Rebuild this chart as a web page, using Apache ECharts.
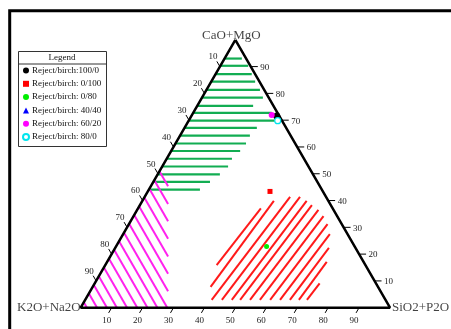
<!DOCTYPE html>
<html><head><meta charset="utf-8">
<script src="https://cdn.jsdelivr.net/npm/echarts@6/dist/echarts.min.js"></script>
<style>html,body{margin:0;padding:0;background:#fff}#c{width:451px;height:329px}</style>
</head><body><div id="c"></div>
<script>
// ---------- DATA (ternary compositions in %) ----------
const vertexNames = ['CaO+MgO', 'K2O+Na2O', 'SiO2+P2O'];
const tickValues = [10, 20, 30, 40, 50, 60, 70, 80, 90];
const legendTitle = 'Legend';
const seriesNames = ['Reject/birch:100/0', 'Reject/birch: 0/100', 'Reject/birch: 0/80',
                     'Reject/birch: 40/40', 'Reject/birch: 60/20', 'Reject/birch: 80/0'];
// sample points: SiO2+P2O (%) and CaO+MgO (%)
const sampleSiO2 = [27.6, 39.5, 48.7, 27.6, 25.8, 28.8];
const sampleCaO  = [71.6, 43.4, 22.8, 71.6, 71.9, 69.8];

// green hatch: lines of constant CaO+MgO, from SiO2=0 to SiO2 end
const greenCaO     = [93.0, 90.3, 87.2, 84.4, 81.3, 78.4, 75.3, 72.7, 69.8, 67.1, 64.2, 61.3, 58.5, 55.6, 52.7, 49.8, 47.0, 44.1];
const greenSiO2End = [5.6, 9.0, 11.7, 14.2, 17.3, 19.7, 18.1, 25.4, 27.9, 23.4, 22.6, 22.8, 22.3, 21.1, 21.3, 20.1, 18.3, 16.5];

// magenta hatch: lines of constant K2O+Na2O, from SiO2=0 to SiO2 end
const magentaK2O     = [98.0, 94.7, 91.5, 88.3, 85.0, 81.7, 78.4, 75.2, 72.0, 68.7, 65.4, 62.2, 58.9, 55.6, 52.4, 49.1];
const magentaSiO2End = [2.0, 5.3, 8.5, 11.7, 15.0, 18.3, 21.6, 24.8, 28.0, 25.2, 21.9, 18.7, 15.4, 12.1, 8.9, 5.6];

// red hatch: start (SiO2, CaO) and end (SiO2, CaO)
const redStartSiO2 = [36.0, 38.1, 40.9, 44.2, 47.4, 50.1, 53.3, 56.5, 59.8, 63.0, 66.2, 69.1, 71.7];
const redStartCaO  = [15.9, 7.8, 2.9, 2.9, 2.9, 2.9, 2.9, 2.9, 2.9, 2.9, 2.9, 2.9, 2.9];
const redEndSiO2   = [39.7, 42.5, 47.0, 50.2, 53.1, 55.6, 58.6, 61.4, 64.2, 66.8, 69.1, 71.0, 72.7];
const redEndCaO    = [37.1, 39.9, 41.4, 41.4, 39.9, 38.3, 36.5, 34.2, 31.2, 27.5, 22.3, 17.1, 9.1];

// ---------- ternary -> cartesian ----------
const H = Math.sqrt(3) / 2;
function tern(si, ca) { return [si + ca / 2, ca * H]; }

const FONT = "'Liberation Serif','Times New Roman',serif";

const segData = (starts, ends) => starts.map((s, i) => s.concat(ends[i]));

const greenSegs = segData(greenCaO.map(a => tern(0, a)), greenCaO.map((a, i) => tern(greenSiO2End[i], a)));
const magentaSegs = segData(magentaK2O.map(c => tern(0, 100 - c)),
                            magentaK2O.map((c, i) => tern(magentaSiO2End[i], 100 - c - magentaSiO2End[i])));
const redSegs = segData(redStartSiO2.map((s, i) => tern(s, redStartCaO[i])),
                        redEndSiO2.map((s, i) => tern(s, redEndCaO[i])));

const triangle = [tern(0, 100), tern(0, 0), tern(100, 0), tern(0, 100)];

// ticks: [x, y, side, label]
const tickData = [];
tickValues.forEach(v => {
  const b = tern(v, 0);       tickData.push([b[0], b[1], 0, v]);          // bottom: SiO2
  const r = tern(100 - v, v); tickData.push([r[0], r[1], 1, v]);          // right: CaO
  const l = tern(0, 100 - v); tickData.push([l[0], l[1], 2, v]);          // left: K2O
});

function segRender(color, width) {
  return function (params, api) {
    const p1 = api.coord([api.value(0), api.value(1)]);
    const p2 = api.coord([api.value(2), api.value(3)]);
    return { type: 'line', shape: { x1: p1[0], y1: p1[1], x2: p2[0], y2: p2[1] },
             style: { stroke: color, lineWidth: width, lineCap: 'butt' } };
  };
}

function tickRender(params, api) {
  const p = api.coord([api.value(0), api.value(1)]);
  const side = api.value(2), lab = String(api.value(3));
  let d, lx, ly, align;
  if (side === 0) { d = [-0.5 * 6, 0.866 * 6]; lx = p[0] - 5; ly = p[1] + 12.5; align = 'center'; }
  else if (side === 1) { d = [7, 0]; lx = p[0] + 9.5; ly = p[1] + 1; align = 'left'; }
  else { d = [-0.5 * 6, -0.866 * 6]; lx = p[0] - 7; ly = p[1] - 9.5; align = 'center'; }
  return { type: 'group', children: [
    { type: 'line', shape: { x1: p[0], y1: p[1], x2: p[0] + d[0], y2: p[1] + d[1] }, style: { stroke: '#000', lineWidth: 1 } },
    { type: 'text', style: { x: lx, y: ly, text: lab, align: align, verticalAlign: 'middle',
      font: "9px " + FONT, fill: '#222' } }
  ]};
}

const markerStyles = [
  { symbol: 'circle', size: 7, color: '#000', zl: 1 },
  { symbol: 'rect', size: 5, color: '#ff0000', zl: 1 },
  { symbol: 'circle', size: 5, color: '#00ee00', zl: 1 },
  { symbol: 'triangle', size: 3, color: '#0000ff', zl: 0 },
  { symbol: 'circle', size: 6, color: '#ff00ff', zl: 1 },
  { symbol: 'circle', size: 6, color: '#ffffff', border: '#00e5ee', zl: 1 }
];

const chart = echarts.init(document.getElementById('c'), null, { renderer: 'canvas' });
const option = {
  animation: false,
  backgroundColor: '#fff',
  grid: { left: 80.7, top: 39.8, width: 309.3, height: 267.9, containLabel: false },
  xAxis: { type: 'value', min: 0, max: 100, show: false },
  yAxis: { type: 'value', min: 0, max: 100 * H, show: false },
  legend: {
    orient: 'vertical', left: 17, top: 61, itemWidth: 6, itemHeight: 6, itemGap: 4.3,
    data: seriesNames, selectedMode: false,
    textStyle: { fontFamily: FONT, fontSize: 9, color: '#111', padding: [0, 0, 0, -2] }
  },
  graphic: [
    { type: 'polyline', shape: { points: [[9.7, 340], [9.7, 10.8], [460, 10.8]] }, style: { stroke: '#000', lineWidth: 3, fill: null } },
    { type: 'rect', shape: { x: 18.5, y: 51.5, width: 88, height: 95 }, style: { stroke: '#333', lineWidth: 1, fill: '#fff' }, z: -1 },
    { type: 'line', shape: { x1: 18.5, y1: 64, x2: 106.5, y2: 64 }, style: { stroke: '#333', lineWidth: 1 } },
    { type: 'text', style: { x: 62, y: 58, text: legendTitle, align: 'center', verticalAlign: 'middle', font: '9px ' + FONT, fill: '#111' } }
  ],
  series: [
    { type: 'custom', name: 'green', renderItem: segRender('#12ad52', 2.2), data: greenSegs, encode: { x: [0, 2], y: [1, 3] }, silent: true, z: 2 },
    { type: 'custom', name: 'magenta', renderItem: segRender('#ff22ee', 2), data: magentaSegs, encode: { x: [0, 2], y: [1, 3] }, silent: true, z: 3 },
    { type: 'custom', name: 'red', renderItem: segRender('#ff1a1a', 2), data: redSegs, encode: { x: [0, 2], y: [1, 3] }, silent: true, z: 2 },
    { type: 'line', name: 'frame', data: triangle, symbol: 'none', lineStyle: { color: '#000', width: 2.5 }, silent: true, z: 5 },
    { type: 'custom', name: 'ticks', renderItem: tickRender, data: tickData, encode: { x: 0, y: 1 }, silent: true, z: 5 },
    {
      type: 'scatter', name: 'vertices', silent: true, symbolSize: 0, z: 6,
      data: [
        { value: tern(0, 100), label: { show: true, formatter: vertexNames[0], position: 'top', distance: 0, offset: [-4, 2] } },
        { value: tern(0, 0), label: { show: true, formatter: vertexNames[1], position: 'left', distance: 0 } },
        { value: tern(100, 0), label: { show: true, formatter: vertexNames[2], position: 'right', distance: 2 } }
      ],
      label: { fontFamily: FONT, fontSize: 13, color: '#111' }
    }
  ].concat(seriesNames.map((nm, i) => ({
    type: 'scatter', name: nm, zlevel: markerStyles[i].zl, z: 10,
    symbol: markerStyles[i].symbol, symbolSize: markerStyles[i].size,
    itemStyle: { color: markerStyles[i].color, borderColor: markerStyles[i].border || markerStyles[i].color, borderWidth: markerStyles[i].border ? 1.2 : 0, opacity: 1 },
    data: [tern(sampleSiO2[i], sampleCaO[i])]
  })))
};
chart.setOption(option);
</script></body></html>
